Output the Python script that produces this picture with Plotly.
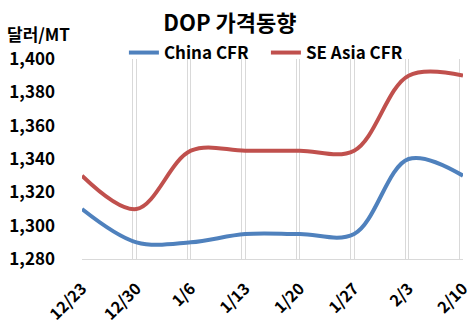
import plotly.graph_objects as go

categories = ["12/23", "12/30", "1/6", "1/13", "1/20", "1/27", "2/3", "2/10"]
china_cfr = [1310, 1290, 1290, 1295, 1295, 1295, 1340, 1330]
se_asia_cfr = [1330, 1310, 1345, 1345, 1345, 1345, 1390, 1390]
y_ticks = [1280, 1300, 1320, 1340, 1360, 1380, 1400]
y_tick_text = ["1,280", "1,300", "1,320", "1,340", "1,360", "1,380", "1,400"]

FONT = "Noto Sans CJK KR"
idx = list(range(len(categories)))

fig = go.Figure()
fig.add_trace(go.Scatter(x=idx, y=china_cfr, name="<b>China CFR</b>", mode="lines",
                         line=dict(color="#4F81BD", width=4, shape="spline", smoothing=1)))
fig.add_trace(go.Scatter(x=idx, y=se_asia_cfr, name="<b>SE Asia CFR</b>", mode="lines",
                         line=dict(color="#C0504D", width=4, shape="spline", smoothing=1)))
# helper trace for the second (offset) gridline axis
fig.add_trace(go.Scatter(x=idx, y=[None] * len(idx), xaxis="x2", showlegend=False,
                         hoverinfo="skip", mode="lines"))

off = 0.064
fig.update_layout(
    width=474, height=328,
    margin=dict(l=82, r=11, t=59, b=69, autoexpand=False),
    plot_bgcolor="white", paper_bgcolor="white",
    font=dict(family=FONT, color="black"),
    title=dict(text="<b>DOP 가격동향</b>", x=0.485, xanchor="center",
               y=0.93, yanchor="middle", font=dict(size=22, family=FONT)),
    xaxis=dict(range=[0, len(idx) - 1], tickvals=idx, ticktext=[f"<b>{c}</b>" for c in categories],
               tickangle=-45, showgrid=True, gridcolor="#d9d9d9", gridwidth=1,
               showline=True, linecolor="#d9d9d9", linewidth=1, ticks="", automargin=False,
               zeroline=False, tickfont=dict(size=16, family=FONT), ticklabelstandoff=13),
    xaxis2=dict(range=[off, len(idx) - 1 + off], tickvals=idx, overlaying="x",
                showgrid=True, gridcolor="#d9d9d9", gridwidth=1, showticklabels=False,
                ticks="", zeroline=False, showline=False, automargin=False),
    yaxis=dict(range=[1280, 1400], tickvals=y_ticks, ticktext=[f"<b>{t}</b>" for t in y_tick_text],
               showgrid=False, zeroline=False, showline=False, ticks="", automargin=False,
               tickfont=dict(size=17, family=FONT), ticklabelstandoff=26),
    legend=dict(orientation="h", x=0.11, y=1.03, xanchor="left", yanchor="middle",
                font=dict(size=17, family=FONT), bgcolor="rgba(0,0,0,0)",
                entrywidth=97, entrywidthmode="pixels"),
    annotations=[dict(text="<b>달러/MT</b>", xref="paper", yref="paper",
                      x=(5 - 82) / 381, y=(259 - 33) / 200, xanchor="left", yanchor="middle",
                      showarrow=False, font=dict(size=17, family=FONT))],
    showlegend=True,
)

fig.write_html("out.html")
